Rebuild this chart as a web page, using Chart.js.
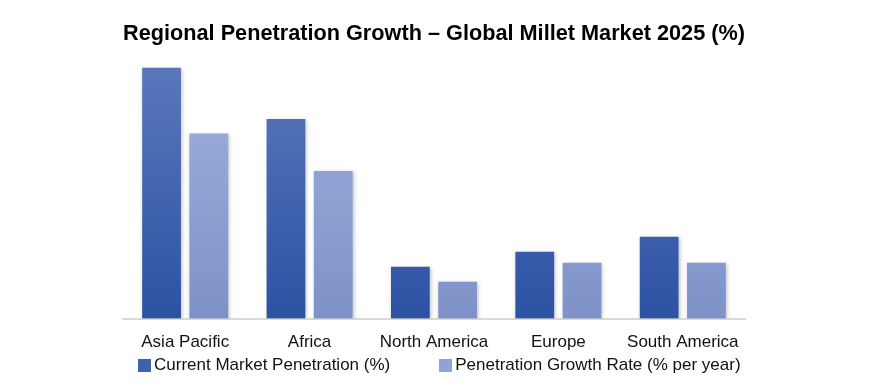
<!DOCTYPE html>
<html>
<head>
<meta charset="utf-8">
<script src="https://cdn.jsdelivr.net/npm/chart.js@4"></script>
<style>
  html, body { margin: 0; padding: 0; background: #fff; }
  #wrap { position: relative; width: 869px; height: 389px; }
  #leyenda {
    position: absolute; left: 138px; top: 355px;
    display: flex; align-items: center;
    font-family: 'Liberation Sans', sans-serif; font-size: 17px; line-height: 20px; color: #111;
  }
  #leyenda span.caja { display: inline-block; width: 13px; height: 13px; margin-right: 3px; }
  #leyenda .item { display: flex; align-items: center; }
  #leyenda .item + .item { margin-left: 49px; }
</style>
</head>
<body>
<div id="wrap">
  <canvas id="grafico"></canvas>
  <div id="leyenda"></div>
</div>
<script>
const regiones = ['Asia Pacific', 'Africa', 'North America', 'Europe', 'South America'];
const penetracionActual = [45, 35.8, 9.3, 12, 14.7];
const tasaCrecimiento = [33.2, 26.5, 6.6, 10, 10];

const series = [
  { label: 'Current Market Penetration (%)', data: penetracionActual, arriba: '#5a77bb', abajo: '#2c52a3', caja: '#3d62b0' },
  { label: 'Penetration Growth Rate (% per year)', data: tasaCrecimiento, arriba: '#a0b1dc', abajo: '#7e92c9', caja: '#8fa3d6' }
];

function degradado(ctx, arriba, abajo) {
  const area = ctx.chart.chartArea;
  if (!area) return abajo;
  const g = ctx.chart.ctx.createLinearGradient(0, area.top, 0, area.bottom);
  g.addColorStop(0, arriba);
  g.addColorStop(1, abajo);
  return g;
}

const sombra = {
  id: 'sombra',
  beforeDatasetsDraw(chart) {
    const c = chart.ctx;
    c.save();
    c.shadowColor = 'rgba(0,0,0,0.25)';
    c.shadowBlur = 4;
    c.shadowOffsetX = 1;
    c.shadowOffsetY = 1;
  },
  afterDatasetsDraw(chart) {
    chart.ctx.restore();
  }
};

new Chart(document.getElementById('grafico'), {
  type: 'bar',
  data: {
    labels: regiones,
    datasets: series.map(s => ({
      label: s.label,
      data: s.data,
      backgroundColor: ctx => degradado(ctx, s.arriba, s.abajo)
    }))
  },
  options: {
    responsive: true,
    maintainAspectRatio: false,
    animation: false,
    layout: { padding: { left: 123, right: 124, top: 0, bottom: 30 } },
    datasets: { bar: { categoryPercentage: 0.76, barPercentage: 0.82 } },
    scales: {
      x: {
        grid: { display: false },
        border: { color: '#d9d9d9', width: 2 },
        ticks: { color: '#111', font: { family: 'Liberation Sans', size: 17 }, padding: 6 }
      },
      y: { display: false, min: 0, max: 45.5 }
    },
    plugins: {
      title: {
        display: true,
        text: 'Regional Penetration Growth – Global Millet Market 2025 (%)',
        color: '#000',
        font: { family: 'Liberation Sans', size: 22.5, weight: 'bold' },
        padding: { top: 20, bottom: 18 }
      },
      legend: { display: false },
      tooltip: { enabled: false }
    }
  },
  plugins: [sombra]
});

// leyenda en HTML para poder separar los elementos como en el original
const leyenda = document.getElementById('leyenda');
series.forEach(s => {
  const item = document.createElement('div');
  item.className = 'item';
  item.innerHTML = '<span class="caja" style="background:' + s.caja + '"></span>' + s.label;
  leyenda.appendChild(item);
});
</script>
</body>
</html>
